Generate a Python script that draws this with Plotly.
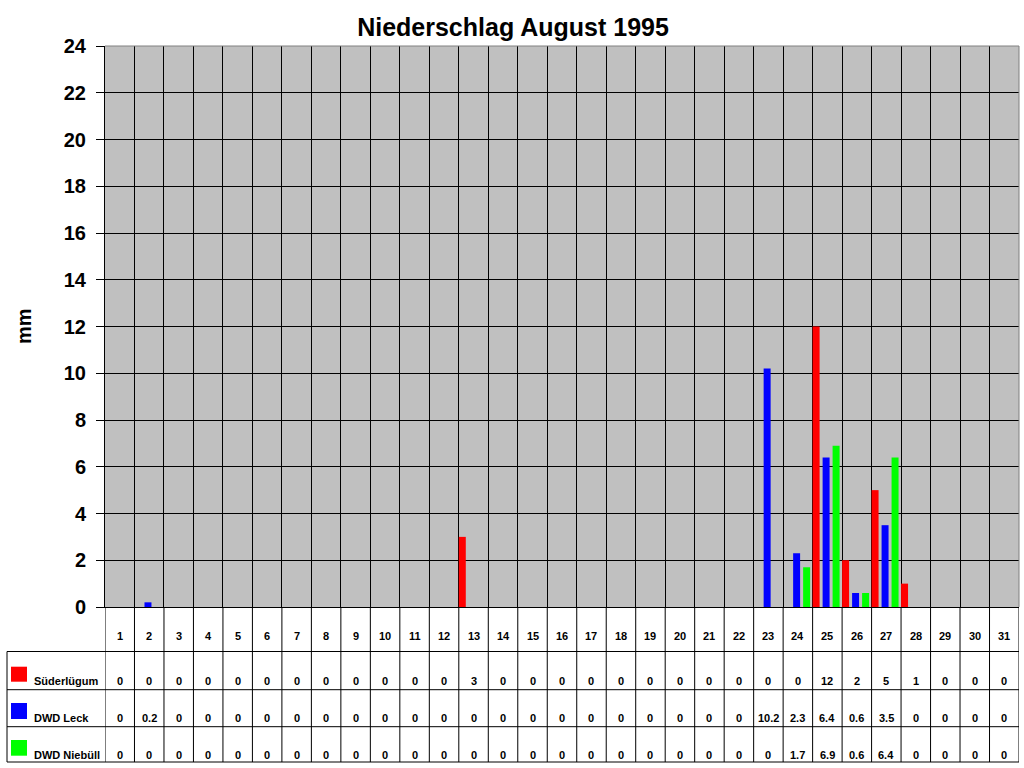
import plotly.graph_objects as go

days = list(range(1, 32))
day_labels = [str(d) for d in days]
series_names = ["Süderlügum", "DWD Leck", "DWD Niebüll"]
sueder = [0, 0, 0, 0, 0, 0, 0, 0, 0, 0, 0, 0, 3, 0, 0, 0, 0, 0, 0, 0, 0, 0, 0, 0, 12, 2, 5, 1, 0, 0, 0]
leck = [0, 0.2, 0, 0, 0, 0, 0, 0, 0, 0, 0, 0, 0, 0, 0, 0, 0, 0, 0, 0, 0, 0, 10.2, 2.3, 6.4, 0.6, 3.5, 0, 0, 0, 0]
niebuell = [0, 0, 0, 0, 0, 0, 0, 0, 0, 0, 0, 0, 0, 0, 0, 0, 0, 0, 0, 0, 0, 0, 0, 1.7, 6.9, 0.6, 6.4, 0, 0, 0, 0]
y_ticks = list(range(0, 25, 2))

series = [sueder, leck, niebuell]
colors = ["#ff0000", "#0000ff", "#00ff00"]
offsets = [-0.5, -0.161, 0.178]
bar_w = 0.237

FONT = "Liberation Sans, Arial, sans-serif"
L, R, T, B = 105, 1019, 46, 607
PW, PH = R - L, B - T


def py(y):
    return (B - y) / PH


def px(x):
    return (x - L) / PW


fig = go.Figure()
for name, vals, col, off in zip(series_names, series, colors, offsets):
    fig.add_trace(go.Bar(x=days, y=vals, name=name, marker=dict(color=col, line=dict(width=0)),
                         width=bar_w, offset=off, showlegend=False, hoverinfo="skip"))

shapes = []
annotations = []

row_lines = [651.5, 689.7, 726.7, 762]
row_text_y = [681, 718, 755]
swatch_y = [(666.7, 681.7), (703, 719), (740, 755.7)]

for k in range(32):
    xv = 0.5 + k
    shapes.append(dict(type="line", xref="x", yref="paper", x0=xv, x1=xv, y0=0, y1=py(762),
                       line=dict(color="black", width=1)))
for yl in row_lines:
    shapes.append(dict(type="line", xref="paper", yref="paper", x0=px(7), x1=1.0, y0=py(yl), y1=py(yl),
                       line=dict(color="black", width=1)))
shapes.append(dict(type="line", xref="paper", yref="paper", x0=px(7), x1=px(7), y0=py(651.5), y1=py(762),
                   line=dict(color="black", width=1)))
shapes.append(dict(type="line", xref="paper", yref="paper", x0=0, x1=1, y0=1, y1=1,
                   line=dict(color="#808080", width=1)))
shapes.append(dict(type="line", xref="paper", yref="paper", x0=1, x1=1, y0=0, y1=1,
                   line=dict(color="#808080", width=1)))

for i, (name, col) in enumerate(zip(series_names, colors)):
    y0, y1 = swatch_y[i]
    shapes.append(dict(type="rect", xref="paper", yref="paper", x0=px(11), x1=px(27), y0=py(y1), y1=py(y0),
                       fillcolor=col, line=dict(width=0)))
    annotations.append(dict(text="<b>%s</b>" % name, xref="paper", yref="paper", x=px(32), y=py(row_text_y[i]),
                            xanchor="left", yanchor="middle", showarrow=False,
                            font=dict(family=FONT, size=11, color="black")))
    for d, v in zip(days, series[i]):
        annotations.append(dict(text="<b>%g</b>" % v, xref="x", yref="paper", x=d, y=py(row_text_y[i]),
                                xanchor="center", yanchor="middle", showarrow=False,
                                font=dict(family=FONT, size=11, color="black")))

for d, lab in zip(days, day_labels):
    annotations.append(dict(text="<b>%s</b>" % lab, xref="x", yref="paper", x=d, y=py(635.5),
                            xanchor="center", yanchor="middle", showarrow=False,
                            font=dict(family=FONT, size=11, color="black")))

annotations.append(dict(text="<b>mm</b>", xref="paper", yref="paper", x=px(24), y=py(326),
                        xanchor="center", yanchor="middle", showarrow=False, textangle=-90,
                        font=dict(family=FONT, size=20, color="black")))

fig.update_layout(
    width=1024, height=768,
    margin=dict(l=L, r=1024 - R, t=T, b=768 - B),
    paper_bgcolor="white", plot_bgcolor="#c0c0c0",
    barmode="overlay",
    title=dict(text="<b>Niederschlag August 1995</b>", x=513 / 1024, xref="container", xanchor="center",
               y=1 - 27 / 768, yref="container", yanchor="middle",
               font=dict(family=FONT, size=25, color="black")),
    xaxis=dict(range=[0.5, 31.5], tickvals=[k + 0.5 for k in range(1, 31)], showticklabels=False,
               ticks="", showgrid=True, gridcolor="black", gridwidth=1, zeroline=False,
               showline=True, linecolor="black", linewidth=1, fixedrange=True),
    yaxis=dict(range=[0, 24], tickvals=y_ticks, ticktext=["<b>%d</b>" % t for t in y_ticks],
               ticks="outside", ticklen=8, tickcolor="black", tickwidth=1,
               showgrid=True, gridcolor="black", gridwidth=1, zeroline=False,
               showline=True, linecolor="black", linewidth=1,
               tickfont=dict(family=FONT, size=20, color="black"), ticklabelstandoff=6,
               fixedrange=True),
    shapes=shapes,
    annotations=annotations,
    font=dict(family=FONT),
)

fig.write_html("out.html", config={"displayModeBar": False},
               post_script="document.body.style.margin='0';document.body.style.overflow='hidden';")
